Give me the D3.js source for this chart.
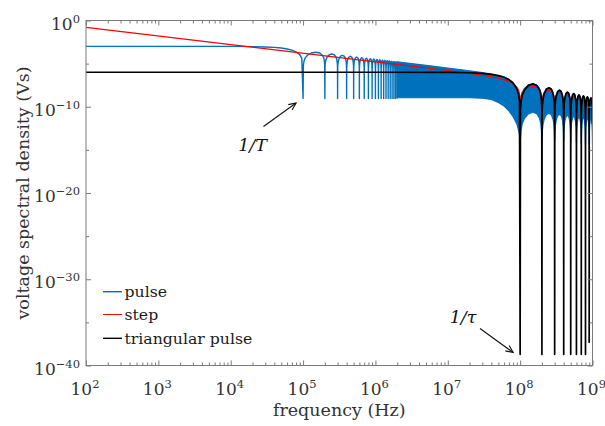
<!DOCTYPE html>
<html><head><meta charset="utf-8">
<script src="https://cdn.jsdelivr.net/npm/d3@7"></script>
<style>body{margin:0;background:#fff}svg{display:block}</style>
</head><body><svg id="c" width="605" height="426"></svg>
<script>
// ---------------- data ----------------
const seriesNames = ["pulse", "step", "triangular pulse"];
const xTickValues = [1e2, 1e3, 1e4, 1e5, 1e6, 1e7, 1e8, 1e9];
const xTickExps = [2, 3, 4, 5, 6, 7, 8, 9];
const yTickValues = [1e0, 1e-10, 1e-20, 1e-30, 1e-40];
const yTickExps = [0, -10, -20, -30, -40];
const yMinorValues = [1e-5, 1e-15, 1e-25, 1e-35];

// pulse (blue): main lobe
const pulseLobeF = [1e2, 1e3, 1e4, 2e4, 3e4, 4e4, 5e4, 6e4, 7e4, 8e4, 9e4, 9.6e4];
const pulseLobeV = [1e-3, 1e-3, 1e-3, 9.4e-4, 8.6e-4, 7.6e-4, 6.4e-4, 5.0e-4, 3.7e-4, 2.3e-4, 1.1e-4, 4e-5];
// pulse: resolved notches (1/T multiples) and the humps between them
const pulseNotchF = [1e5, 2e5, 3e5, 4e5, 5e5, 6e5, 7e5, 8e5, 9e5, 1e6, 1.1e6, 1.2e6, 1.3e6, 1.4e6, 1.5e6, 1.6e6, 1.7e6, 1.8e6, 1.9e6, 2e6];
const pulseNotchV = [9e-10, 9e-10, 9e-10, 9e-10, 9e-10, 9e-10, 9e-10, 9e-10, 9e-10, 9e-10, 9e-10, 9e-10, 9e-10, 9e-10, 9e-10, 9e-10, 9e-10, 9e-10, 9e-10, 9e-10];
const pulseHumpV = [2.1e-4, 1.3e-4, 9.1e-5, 7.1e-5, 5.8e-5, 4.9e-5, 4.2e-5, 3.7e-5, 3.4e-5, 3.0e-5, 2.8e-5, 2.5e-5, 2.4e-5, 2.2e-5, 2.1e-5, 1.9e-5, 1.8e-5, 1.7e-5, 1.6e-5];
// pulse: dense (unresolved) band, upper and lower edge
const bandF = [2e6, 5e6, 1e7, 2e7, 3e7, 4e7, 5e7, 6e7, 7e7, 8e7, 9e7, 9.5e7, 9.8e7];
const bandTop = [1.6e-5, 6.3e-6, 3.1e-6, 1.5e-6, 9.1e-7, 6.0e-7, 4.1e-7, 2.7e-7, 1.5e-7, 6.5e-8, 1.4e-8, 3e-9, 5e-10];
const bandBottom = [1.1e-9, 1.1e-9, 1.1e-9, 1.1e-9, 1.0e-9, 7e-10, 3.2e-10, 1.2e-10, 3.3e-11, 7e-12, 1e-12, 2e-13, 6e-14];
// high-frequency notches (1/tau multiples)
const tailNotchF = [1e8, 2e8, 3e8, 4e8, 5e8, 6e8, 7e8, 8e8, 9e8];
const tailEndF = 1e9;
const bandTailTopV = [4.5e-8, 1.6e-8, 8.3e-9, 5.0e-9, 3.4e-9, 2.4e-9, 1.8e-9, 1.4e-9, 1.1e-9];
const bandTailBottomV = [2.3e-11, 1.8e-11, 1.35e-11, 1.05e-11, 7.9e-12, 6.2e-12, 5.4e-12, 4.7e-12, 4.1e-12];
const bandNotchV = 2.5e-14;

// step (red)
const stepF = [1e2, 1e6, 1e7, 2e7, 3e7, 4e7, 5e7, 6e7, 7e7, 8e7, 9e7, 9.5e7, 9.8e7];
const stepV = [1.6e-1, 1.6e-5, 1.57e-6, 7.4e-7, 4.6e-7, 3.0e-7, 2.0e-7, 1.3e-7, 8.4e-8, 4.7e-8, 1.9e-8, 8.8e-9, 3.3e-9];
const stepHumpV = [2.2e-8, 8.1e-9, 4.1e-9, 2.5e-9, 1.7e-9, 1.2e-9, 9e-10, 7e-10, 5.6e-10];
const stepNotchV = [1e-12, 1e-12, 1e-12, 1e-12, 1e-12, 1e-12, 1e-12, 1e-12, 1e-12];

// triangular pulse (black)
const triF = [1e2, 1e6, 1e7, 2e7, 3e7, 4e7, 5e7, 6e7, 7e7, 8e7, 9e7, 9.5e7, 9.8e7];
const triV = [1e-6, 1e-6, 9.7e-7, 8.8e-7, 7.4e-7, 5.7e-7, 4.1e-7, 2.6e-7, 1.4e-7, 5.5e-8, 1.2e-8, 2.8e-9, 4.2e-10];
const triHumpV = [4.5e-8, 1.6e-8, 8.3e-9, 5.0e-9, 3.4e-9, 2.4e-9, 1.8e-9, 1.4e-9, 1.1e-9];
const triNotchV = [2e-39, 2e-39, 2e-39, 2e-39, 2e-39, 2e-39, 2e-39, 2e-39, 5e-38];

// shape of one hump between two notches (fraction across hump, log10 drop from hump peak)
const humpT = [0.01, 0.03, 0.07, 0.15, 0.3, 0.5, 0.7, 0.85, 0.93, 0.97, 0.99];
const humpDrop = [-1.5, -1.03, -0.66, -0.35, -0.09, 0, -0.09, -0.35, -0.66, -1.03, -1.5];

// annotations
const annT = {text: "1/T", f: 1e5};
const annTau = {text: "1/\u03C4", f: 1e8};

// ---------------- layout ----------------
const L = 86, R = 592.5, T = 20.5, B = 365.5;
const x = d3.scaleLog().domain([1e2, 1e9]).range([L, R]);
const y = d3.scaleLog().domain([1e-40, 1e0]).range([B, T]);
const svg = d3.select("#c");
const FONT = "'DejaVu Serif', 'Liberation Serif', serif";
const BLUE = "#0072BD", RED = "#FF0000", BLACK = "#000000";

svg.append("defs").append("clipPath").attr("id", "clip")
  .append("rect").attr("x", L).attr("y", T).attr("width", R - L).attr("height", B - T);
const g = svg.append("g").attr("clip-path", "url(#clip)");

function humpPoints(notchF, endF, peaks, notchV, k) {
  const pts = [];
  for (let i = 0; i < peaks.length; i++) {
    const a = notchF[i], b = i + 1 < notchF.length ? notchF[i + 1] : endF;
    pts.push([a, notchV[i]]);
    humpT.forEach((t, j) => pts.push([a + t * (b - a), peaks[i] * Math.pow(10, k * humpDrop[j])]));
  }
  return pts;
}
const line = d3.line().x(d => x(d[0])).y(d => y(d[1]));

// ---- pulse (blue)
const pulsePts = pulseLobeF.map((f, i) => [f, pulseLobeV[i]])
  .concat(humpPoints(pulseNotchF, null, pulseHumpV, pulseNotchV, 1))
  .concat([[pulseNotchF[pulseNotchF.length - 1], pulseNotchV[pulseNotchV.length - 1]]]);
g.append("path").attr("d", line(pulsePts)).attr("fill", "none")
  .attr("stroke", BLUE).attr("stroke-width", 1.4).attr("stroke-linejoin", "round");

const bandPts = bandF.map((f, i) => ({f, hi: bandTop[i], lo: bandBottom[i]}));
tailNotchF.forEach((a, i) => {
  const b = i + 1 < tailNotchF.length ? tailNotchF[i + 1] : tailEndF;
  bandPts.push({f: a, hi: bandNotchV, lo: bandNotchV});
  humpT.forEach((t, j) => bandPts.push({
    f: a + t * (b - a),
    hi: bandTailTopV[i] * Math.pow(10, 1.5 * humpDrop[j]),
    lo: bandTailBottomV[i] * Math.pow(10, 2 * humpDrop[j])
  }));
});
const area = d3.area().x(d => x(d.f)).y0(d => y(d.lo)).y1(d => y(d.hi));
g.append("path").attr("d", area(bandPts)).attr("fill", BLUE)
  .attr("stroke", BLUE).attr("stroke-width", 1.2).attr("stroke-linejoin", "round");

// ---- step (red)
const stepPts = stepF.map((f, i) => [f, stepV[i]])
  .concat(humpPoints(tailNotchF, tailEndF, stepHumpV, stepNotchV, 1));
g.append("path").attr("d", line(stepPts)).attr("fill", "none")
  .attr("stroke", RED).attr("stroke-width", 1.1).attr("stroke-linejoin", "round");

// ---- triangular pulse (black)
const triPts = triF.map((f, i) => [f, triV[i]])
  .concat(humpPoints(tailNotchF, tailEndF, triHumpV, triNotchV, 2));
g.append("path").attr("d", line(triPts)).attr("fill", "none")
  .attr("stroke", BLACK).attr("stroke-width", 1.7).attr("stroke-linejoin", "round");

// ---------------- axes ----------------
const AX = "#7a7a7a", TXT = "#333333";
const minorX = x.ticks().filter(v => xTickValues.indexOf(v) < 0);
function styleAxis(sel) {
  sel.select(".domain").remove();
  sel.selectAll(".tick line").attr("stroke", AX);
  sel.selectAll(".tick text").remove();
}
svg.append("g").attr("transform", `translate(0,${B})`).call(d3.axisBottom(x).tickValues(minorX).tickSize(-3)).call(styleAxis);
svg.append("g").attr("transform", `translate(0,${B})`).call(d3.axisBottom(x).tickValues(xTickValues).tickSize(-5)).call(styleAxis);
svg.append("g").attr("transform", `translate(0,${T})`).call(d3.axisTop(x).tickValues(minorX).tickSize(-3)).call(styleAxis);
svg.append("g").attr("transform", `translate(0,${T})`).call(d3.axisTop(x).tickValues(xTickValues).tickSize(-5)).call(styleAxis);
svg.append("g").attr("transform", `translate(${L},0)`).call(d3.axisLeft(y).tickValues(yMinorValues).tickSize(-3)).call(styleAxis);
svg.append("g").attr("transform", `translate(${L},0)`).call(d3.axisLeft(y).tickValues(yTickValues).tickSize(-5)).call(styleAxis);
svg.append("g").attr("transform", `translate(${R},0)`).call(d3.axisRight(y).tickValues(yMinorValues).tickSize(-3)).call(styleAxis);
svg.append("g").attr("transform", `translate(${R},0)`).call(d3.axisRight(y).tickValues(yTickValues).tickSize(-5)).call(styleAxis);
svg.append("rect").attr("x", L).attr("y", T).attr("width", R - L).attr("height", B - T)
  .attr("fill", "none").attr("stroke", AX).attr("stroke-width", 1);

function sci(sel, e) {
  sel.append("tspan").text("10");
  sel.append("tspan").attr("dy", -7).attr("font-size", 11.5).text(e < 0 ? "\u2212" + (-e) : String(e));
}
xTickValues.forEach((v, i) => {
  svg.append("text").attr("x", x(v) - 1).attr("y", 395).attr("text-anchor", "middle")
    .attr("font-family", FONT).attr("font-size", 17).attr("fill", TXT).call(sci, xTickExps[i]);
});
yTickValues.forEach((v, i) => {
  svg.append("text").attr("x", 80).attr("y", y(v) + 9).attr("text-anchor", "end")
    .attr("font-family", FONT).attr("font-size", 17).attr("fill", TXT).call(sci, yTickExps[i]);
});

svg.append("text").attr("x", (L + R) / 2).attr("y", 416).attr("text-anchor", "middle")
  .attr("font-family", FONT).attr("font-size", 17.5).attr("fill", TXT).text("frequency (Hz)");
svg.append("text").attr("transform", `translate(29,${(T + B) / 2}) rotate(-90)`).attr("text-anchor", "middle")
  .attr("font-family", FONT).attr("font-size", 17.5).attr("fill", TXT).text("voltage spectral density (Vs)");

// ---------------- legend ----------------
const legColors = [BLUE, RED, BLACK];
const legY = [291.7, 314.5, 338.3];
seriesNames.forEach((n, i) => {
  svg.append("line").attr("x1", 103).attr("x2", 122).attr("y1", legY[i]).attr("y2", legY[i])
    .attr("stroke", legColors[i]).attr("stroke-width", i === 1 ? 1 : 1.4);
  svg.append("text").attr("x", 124.5).attr("y", legY[i] + 5.5).attr("font-family", FONT)
    .attr("font-size", 15.7).attr("fill", "#1a1a1a").text(n);
});

// ---------------- annotations ----------------
function arrow(x1, y1, x2, y2) {
  svg.append("line").attr("x1", x1).attr("y1", y1).attr("x2", x2).attr("y2", y2)
    .attr("stroke", "#111").attr("stroke-width", 1.1);
  const ang = Math.atan2(y2 - y1, x2 - x1), len = 8, spread = 0.42;
  const p = [[x2 - len * Math.cos(ang - spread), y2 - len * Math.sin(ang - spread)], [x2, y2],
             [x2 - len * Math.cos(ang + spread), y2 - len * Math.sin(ang + spread)]];
  svg.append("path").attr("d", d3.line()(p)).attr("fill", "none").attr("stroke", "#111").attr("stroke-width", 1.1);
}
arrow(263.5, 126.5, x(annT.f) - 7, 103);
svg.append("text").attr("x", 252.5).attr("y", 151).attr("text-anchor", "middle").attr("font-family", FONT)
  .attr("font-style", "italic").attr("font-size", 17.5).attr("fill", "#111").text(annT.text);
arrow(480, 328.5, x(annTau.f) - 7, 352.5);
svg.append("text").attr("x", 463).attr("y", 323).attr("text-anchor", "middle").attr("font-family", FONT)
  .attr("font-style", "italic").attr("font-size", 17.5).attr("fill", "#111").text(annTau.text);
</script></body></html>
